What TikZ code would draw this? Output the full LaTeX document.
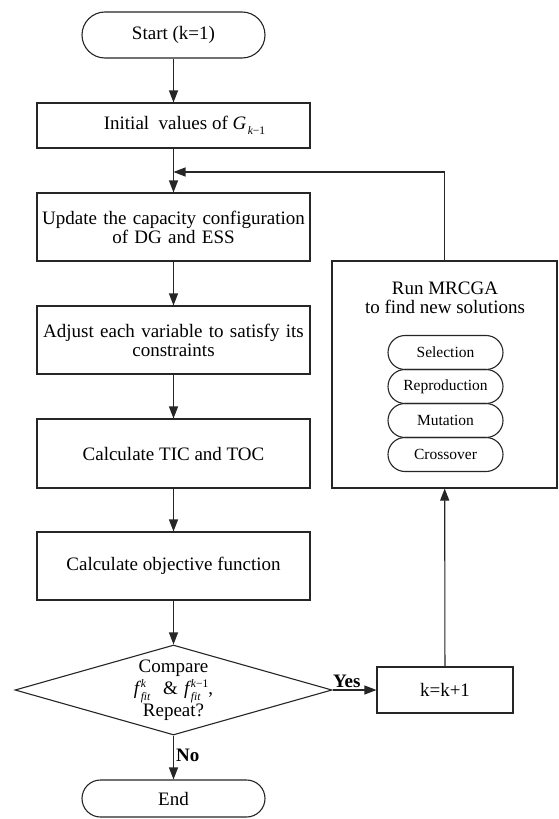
\documentclass[tikz,border=0pt]{standalone}
\usepackage{fontspec}
\setmainfont{Liberation Serif}
\usetikzlibrary{arrows.meta,shapes.geometric}
\newcommand\fsize[1]{\fontsize{#1}{#1}\selectfont}
\newsavebox\supbx
\newsavebox\subbx
\newcommand\supsubtxt[3]{{#1}\hspace{1.5pt}\sbox\supbx{\fsize{11.5}#2}\sbox\subbx{\fsize{11.5}#3}\raisebox{0.85ex}{\rlap{\usebox\supbx}}\raisebox{-0.6ex}{\usebox\subbx}\ifdim\wd\supbx>\wd\subbx\hspace{\dimexpr\wd\supbx-\wd\subbx\relax}\fi}
\begin{document}
\begin{tikzpicture}[x=1pt,y=-1pt,
  line/.style={draw=black!85, line width=1.1pt},
  arr/.style={line, -{Triangle[length=12pt,width=9pt]}},
  box/.style={line, rectangle, inner sep=0pt, align=center, font=\fsize{19}, minimum width=273pt},
  term/.style={line, rectangle, inner sep=0pt, font=\fsize{19}, minimum width=183pt, minimum height=46pt, rounded corners=23pt},
  pill/.style={line, rectangle, inner sep=0pt, font=\fsize{15.5}, minimum width=115pt, minimum height=34pt, rounded corners=17pt},
  lbl/.style={font=\bfseries\fsize{19}, inner sep=1pt}
]
\fill[white] (0,0) rectangle (558,819);
\useasboundingbox (0,0) rectangle (558,819);

\node[term] (start) at (173.5,35) {Start (k=1)};
\node[box, minimum height=45pt] (init) at (173.5,125.5) {\hspace*{22pt}Initial\ \ values of \supsubtxt{\itshape G}{}{{\itshape k}−1}};
\node[box, minimum height=68pt, text width=265pt] (upd) at (173.5,227) {\baselineskip=22pt Update the capacity configuration\\of DG and ESS};
\node[box, minimum height=68pt, text width=265pt] (adj) at (173.5,340) {\baselineskip=22pt Adjust each variable to satisfy its\\constraints};
\node[box, minimum height=69pt] (tic) at (173.5,453.5) {Calculate TIC and TOC};
\node[box, minimum height=68pt] (obj) at (173.5,566) {Calculate objective function};

\node[line, diamond, inner sep=0pt, minimum width=317pt, minimum height=90pt] (dec) at (173.5,690) {};
\node[align=center, font=\fsize{19}, inner sep=0pt, text width=200pt] (dectext) at (173.5,690)
  {\baselineskip=22.5pt Compare\\ \supsubtxt{\itshape f}{\itshape k}{\itshape fit}\ \ \&\ \supsubtxt{\itshape f}{{\itshape k}−1}{\itshape fit},\\Repeat?};

\node[line, rectangle, inner sep=0pt, font=\fsize{19}, minimum width=136pt, minimum height=46pt] (kk) at (445,690) {k=k+1};

\node[line, rectangle, inner sep=0pt, minimum width=225pt, minimum height=227pt] (mr) at (444.5,374.5) {};
\node[align=center, font=\fsize{19}, inner sep=0pt] (mrtitle) at (445,298) {\baselineskip=22pt Run MRCGA\\to find new solutions};
\node[pill] (sel) at (445.5,352.5) {Selection};
\node[pill] (rep) at (445.5,386.5) {Reproduction};
\node[pill] (mut) at (445.5,420.5) {Mutation};
\node[pill] (cro) at (445.5,454.5) {Crossover};

\node[term, minimum height=37pt, rounded corners=18.5pt] (end) at (173.5,798.5) {End};

\coordinate (j) at (173.5,172);
\draw[arr] (start) -- (init);
\draw[arr] (init) -- (upd);
\draw[arr] (mr.north) |- (j);
\draw[arr] (upd) -- (adj);
\draw[arr] (adj) -- (tic);
\draw[arr] (tic) -- (obj);
\draw[arr] (obj) -- (dec.north);
\draw[arr] (dec.east) -- (kk.west) node[lbl, pos=0, anchor=south west, xshift=-1pt, yshift=1pt] {Yes};
\draw[arr] (kk) -- (mr);
\draw[arr] (dec.south) -- (end) node[lbl, pos=0.45, anchor=west, xshift=1pt] {No};
\end{tikzpicture}
\end{document}
